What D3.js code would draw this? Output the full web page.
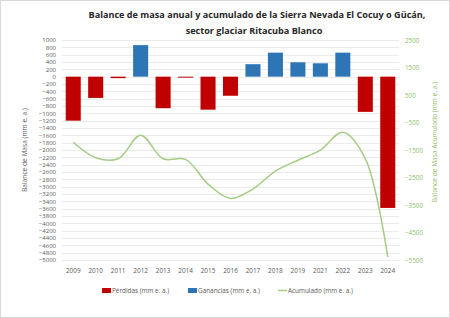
<!DOCTYPE html>
<html>
<head>
<meta charset="utf-8">
<script src="https://cdn.jsdelivr.net/npm/d3@7"></script>
<style>
  body { margin: 0; background: #fff; }
  text { font-family: "Open Sans", "Liberation Sans", sans-serif; }
</style>
</head>
<body>
<div id="chart"></div>
<script>
const years = ["2009","2010","2011","2012","2013","2014","2015","2016","2017","2018","2019","2021","2022","2023","2024"];
const perdidas = [-1200, -580, -40, 0, -860, -20, -900, -520, 0, 0, 0, 0, 0, -960, -3580];
const ganancias = [0, 0, 0, 860, 0, 0, 0, 0, 340, 655, 393, 365, 655, 0, 0];
const acumulado = [-1220, -1780, -1820, -960, -1820, -1840, -2740, -3260, -2920, -2265, -1872, -1507, -852, -1815, -5395];
const leftTicks = d3.range(1000, -5001, -200);
const rightTicks = d3.range(2500, -5501, -1000);

const W = 450, H = 318;
const svg = d3.select("#chart")
  .append("svg")
  .attr("width", W)
  .attr("height", H);

svg.append("rect")
  .attr("x", 0.5).attr("y", 0.5)
  .attr("width", W - 1).attr("height", H - 1)
  .attr("fill", "#fff")
  .attr("stroke", "#d9d9d9");

const x = d3.scaleBand()
  .domain(years)
  .range([62, 399])
  .paddingInner(0.33)
  .paddingOuter(0.165);

const yL = d3.scaleLinear().domain([-5000, 1000]).range([260, 40]);
const yR = d3.scaleLinear().domain([-5500, 2500]).range([260, 40]);

// grid
svg.append("g")
  .selectAll("line")
  .data(leftTicks)
  .join("line")
  .attr("x1", 62).attr("x2", 399)
  .attr("y1", d => Math.round(yL(d)) + 0.5)
  .attr("y2", d => Math.round(yL(d)) + 0.5)
  .attr("stroke", "#e6e6e6")
  .attr("stroke-width", 0.8);

// left axis
const axL = svg.append("g")
  .attr("transform", "translate(58,0)")
  .call(d3.axisLeft(yL).tickValues(leftTicks).tickFormat(d3.format("d")).tickSize(0).tickPadding(2));
axL.select(".domain").remove();
axL.selectAll("text").attr("font-size", 6).attr("fill", "#595959");

// right axis
const axR = svg.append("g")
  .attr("transform", "translate(401,0)")
  .call(d3.axisRight(yR).tickValues(rightTicks).tickFormat(d3.format("d")).tickSize(0).tickPadding(4));
axR.select(".domain").remove();
axR.selectAll("text").attr("font-size", 6.3).attr("fill", "#8fbc6a");

// x axis labels
const axX = svg.append("g")
  .attr("transform", "translate(0,265)")
  .call(d3.axisBottom(x).tickSize(0).tickPadding(3));
axX.select(".domain").remove();
axX.selectAll("text").attr("font-size", 6.4).attr("fill", "#595959");

// bars
svg.append("g")
  .selectAll("rect")
  .data(years.map((y, i) => ({ y, v: perdidas[i] })).filter(d => d.v !== 0))
  .join("rect")
  .attr("x", d => x(d.y))
  .attr("width", x.bandwidth())
  .attr("y", yL(0))
  .attr("height", d => Math.max(1, yL(d.v) - yL(0)))
  .attr("fill", "#c00000");

svg.append("g")
  .selectAll("rect")
  .data(years.map((y, i) => ({ y, v: ganancias[i] })).filter(d => d.v !== 0))
  .join("rect")
  .attr("x", d => x(d.y))
  .attr("width", x.bandwidth())
  .attr("y", d => yL(d.v))
  .attr("height", d => yL(0) - yL(d.v))
  .attr("fill", "#2e75b6");

// accumulated line
const line = d3.line()
  .x((d, i) => x(years[i]) + x.bandwidth() / 2)
  .y(d => yR(d))
  .curve(d3.curveCatmullRom.alpha(0.5));

svg.append("path")
  .datum(acumulado)
  .attr("d", line)
  .attr("fill", "none")
  .attr("stroke", "#a3cc85")
  .attr("stroke-width", 1.5);

// title
const title = svg.append("text")
  .attr("text-anchor", "middle")
  .attr("font-weight", "bold")
  .attr("font-size", 9.1)
  .attr("fill", "#262626");
title.append("tspan").attr("x", 257).attr("y", 18)
  .text("Balance de masa anual y acumulado de la Sierra Nevada El Cocuy o Gücán,");
title.append("tspan").attr("x", 254).attr("y", 34)
  .text("sector glaciar Ritacuba Blanco");

// axis titles
svg.append("text")
  .attr("transform", "translate(27,150) rotate(-90)")
  .attr("text-anchor", "middle")
  .attr("font-size", 6.6)
  .attr("fill", "#595959")
  .text("Balance de Masa (mm e. a.)");

svg.append("text")
  .attr("transform", "translate(437,142) rotate(-90)")
  .attr("text-anchor", "middle")
  .attr("font-size", 6.6)
  .attr("fill", "#8fbc6a")
  .text("Balance de Masa Acumulado (mm e. a.)");

// legend
const leg = svg.append("g").attr("font-size", 6.4).attr("fill", "#595959");
leg.append("rect").attr("x", 102).attr("y", 288).attr("width", 9).attr("height", 5).attr("fill", "#c00000");
leg.append("text").attr("x", 112).attr("y", 293).text("Pérdidas (mm e. a.)");
leg.append("rect").attr("x", 188).attr("y", 288).attr("width", 9).attr("height", 5).attr("fill", "#2e75b6");
leg.append("text").attr("x", 198).attr("y", 293).text("Ganancias (mm e. a.)");
leg.append("line").attr("x1", 278).attr("x2", 287).attr("y1", 290.5).attr("y2", 290.5)
  .attr("stroke", "#a3cc85").attr("stroke-width", 1.5);
leg.append("text").attr("x", 288).attr("y", 293).text("Acumulado (mm e. a.)");
</script>
</body>
</html>
